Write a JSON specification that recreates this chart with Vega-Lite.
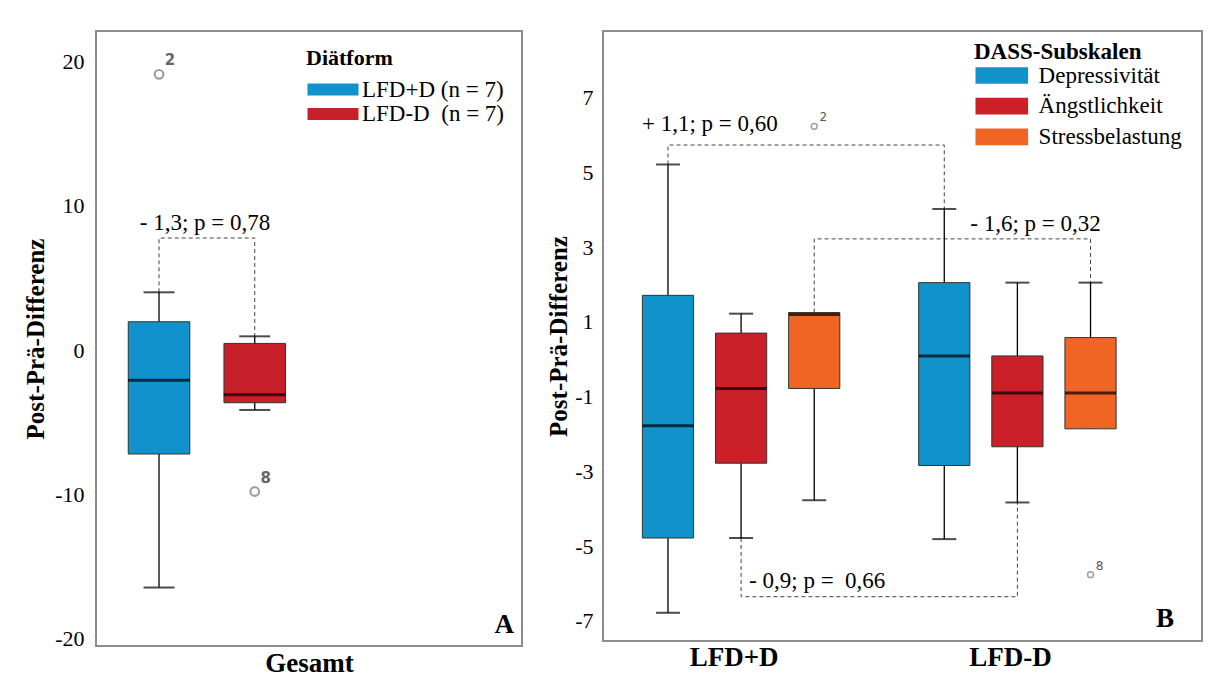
{
  "$schema": "https://vega.github.io/schema/vega-lite/v6.json",
  "padding": {"left": 22, "top": 30, "right": 5, "bottom": 0},
  "spacing": 22,
  "config": {
    "font": "Liberation Serif",
    "view": {"stroke": "#8c8c8c", "strokeWidth": 2},
    "text": {"font": "Liberation Serif"},
    "title": {"font": "Liberation Serif"},
    "axis": {"grid": false, "domain": false, "ticks": false, "tickSize": 0, "labelFont": "Liberation Serif", "titleFont": "Liberation Serif", "labelColor": "#000", "titleColor": "#000"},
    "legend": {"labelFont": "Liberation Serif", "titleFont": "Liberation Serif", "labelColor": "#000", "titleColor": "#000"}
  },
  "datasets": {
    "boxA": [
      {"Diätform": "LFD+D", "min": -16.45, "q1": -7.2, "median": -2.1, "q3": 1.96, "max": 4.0},
      {"Diätform": "LFD-D", "min": -4.15, "q1": -3.65, "median": -3.1, "q3": 0.46, "max": 0.95}
    ],
    "outA": [
      {"Diätform": "LFD+D", "value": 19.1, "id": "2"},
      {"Diätform": "LFD-D", "value": -9.8, "id": "8"}
    ],
    "bracketA": [
      {"Diätform": "LFD+D", "value": 4.0, "step": 1},
      {"Diätform": "LFD+D", "value": 7.76, "step": 2},
      {"Diätform": "LFD-D", "value": 7.76, "step": 3},
      {"Diätform": "LFD-D", "value": 0.95, "step": 4}
    ],
    "textA": [
      {"Diätform": "LFD+D", "value": 8.8, "label": "- 1,3; p = 0,78"}
    ],
    "boxB": [
      {"Gruppe": "LFD+D", "Subskala": "Depressivität", "min": -6.78, "q1": -4.78, "median": -1.78, "q3": 1.71, "max": 5.21},
      {"Gruppe": "LFD+D", "Subskala": "Ängstlichkeit", "min": -4.78, "q1": -2.78, "median": -0.78, "q3": 0.7, "max": 1.22},
      {"Gruppe": "LFD+D", "Subskala": "Stressbelastung", "min": -3.77, "q1": -0.78, "median": 1.2, "q3": 1.25, "max": 1.25},
      {"Gruppe": "LFD-D", "Subskala": "Depressivität", "min": -4.81, "q1": -2.84, "median": 0.09, "q3": 2.05, "max": 4.02},
      {"Gruppe": "LFD-D", "Subskala": "Ängstlichkeit", "min": -3.83, "q1": -2.34, "median": -0.9, "q3": 0.09, "max": 2.05},
      {"Gruppe": "LFD-D", "Subskala": "Stressbelastung", "min": -1.86, "q1": -1.86, "median": -0.9, "q3": 0.58, "max": 2.05}
    ],
    "outB": [
      {"Gruppe": "LFD+D", "Subskala": "Stressbelastung", "value": 6.23, "id": "2"},
      {"Gruppe": "LFD-D", "Subskala": "Stressbelastung", "value": -5.76, "id": "8"}
    ],
    "bracketB": [
      {"pair": 1, "Gruppe": "LFD+D", "Subskala": "Depressivität", "value": 5.21, "step": 1},
      {"pair": 1, "Gruppe": "LFD+D", "Subskala": "Depressivität", "value": 5.73, "step": 2},
      {"pair": 1, "Gruppe": "LFD-D", "Subskala": "Depressivität", "value": 5.73, "step": 3},
      {"pair": 1, "Gruppe": "LFD-D", "Subskala": "Depressivität", "value": 4.02, "step": 4},
      {"pair": 2, "Gruppe": "LFD+D", "Subskala": "Stressbelastung", "value": 1.25, "step": 1},
      {"pair": 2, "Gruppe": "LFD+D", "Subskala": "Stressbelastung", "value": 3.22, "step": 2},
      {"pair": 2, "Gruppe": "LFD-D", "Subskala": "Stressbelastung", "value": 3.22, "step": 3},
      {"pair": 2, "Gruppe": "LFD-D", "Subskala": "Stressbelastung", "value": 2.05, "step": 4},
      {"pair": 3, "Gruppe": "LFD+D", "Subskala": "Ängstlichkeit", "value": -4.78, "step": 1},
      {"pair": 3, "Gruppe": "LFD+D", "Subskala": "Ängstlichkeit", "value": -6.35, "step": 2},
      {"pair": 3, "Gruppe": "LFD-D", "Subskala": "Ängstlichkeit", "value": -6.35, "step": 3},
      {"pair": 3, "Gruppe": "LFD-D", "Subskala": "Ängstlichkeit", "value": -3.83, "step": 4}
    ],
    "textB": [
      {"nr": 1, "Gruppe": "LFD+D", "Subskala": "Depressivität", "value": 6.3, "label": "+ 1,1; p = 0,60"},
      {"nr": 2, "Gruppe": "LFD-D", "Subskala": "Depressivität", "value": 3.62, "label": "- 1,6; p = 0,32"},
      {"nr": 3, "Gruppe": "LFD+D", "Subskala": "Ängstlichkeit", "value": -5.93, "label": "- 0,9; p =\u00a0 0,66"}
    ]
  },
  "hconcat": [
    {
      "width": 426,
      "height": 615,
      "title": {"text": "A", "orient": "bottom", "anchor": "end", "frame": "group", "offset": -64, "dx": -8, "fontSize": 27, "fontWeight": "bold", "font": "Liberation Serif", "color": "#000"},
      "encoding": {
        "x": {
          "field": "Diätform", "type": "nominal",
          "scale": {"domain": ["LFD+D", "LFD-D"], "range": [32.25, 189.5], "paddingInner": 0.357, "paddingOuter": 0},
          "axis": {"labels": false, "title": "Gesamt", "titleFont": "Liberation Serif", "titleFontSize": 27, "titleFontWeight": "bold", "titlePadding": 4, "titleX": 213, "titleAnchor": "middle"}
        }
      },
      "layer": [
        {
          "data": {"name": "bracketA"},
          "mark": {"type": "line", "strokeDash": [4, 3], "stroke": "#444", "strokeWidth": 1},
          "encoding": {
            "y": {"field": "value", "type": "quantitative", "title": "Post-Prä-Differenz", "scale": {"domain": [-20.5, 22.1], "nice": false, "zero": false}},
            "order": {"field": "step", "type": "quantitative"}
          }
        },
        {
          "data": {"name": "boxA"},
          "mark": {"type": "rule", "color": "#000", "strokeWidth": 1.3},
          "encoding": {
            "y": {"field": "min", "type": "quantitative", "title": "Post-Prä-Differenz", "scale": {"domain": [-20.5, 22.1], "nice": false, "zero": false}},
            "y2": {"field": "max"}
          }
        },
        {
          "data": {"name": "boxA"},
          "mark": {"type": "bar", "stroke": "#333", "strokeWidth": 1},
          "encoding": {
            "y": {
              "field": "q1", "type": "quantitative", "title": "Post-Prä-Differenz",
              "scale": {"domain": [-20.5, 22.1], "nice": false, "zero": false},
              "axis": {"values": [20, 10, 0, -10, -20], "labelExpr": "'' + datum.value", "labelFont": "Liberation Serif", "titleFont": "Liberation Serif", "labelFontSize": 22, "labelPadding": 12, "titleFontSize": 25, "titleFontWeight": "bold", "titlePadding": 6}
            },
            "y2": {"field": "q3"},
            "color": {
              "field": "Diätform", "type": "nominal",
              "scale": {"domain": ["LFD+D", "LFD-D"], "range": ["#1192CC", "#C8202A"]},
              "legend": {
                "orient": "none", "legendX": 210, "legendY": 17,
                "title": "Diätform", "titleFont": "Liberation Serif", "labelFont": "Liberation Serif",
                "titleFontSize": 22, "titleFontWeight": "bold", "titlePadding": 8,
                "labelFontSize": 23, "labelOffset": 33, "rowPadding": 0.4,
                "symbolType": "M-1,-0.6H4.1V0.6H-1Z", "symbolSize": 400, "symbolStrokeWidth": 0,
                "labelExpr": "datum.label == 'LFD+D' ? 'LFD+D (n = 7)' : 'LFD-D\u00a0 (n = 7)'"
              }
            }
          }
        },
        {
          "data": {"name": "boxA"},
          "mark": {"type": "tick", "orient": "horizontal", "color": "#000", "size": 62, "thickness": 3},
          "encoding": {
            "y": {"field": "median", "type": "quantitative", "title": "Post-Prä-Differenz", "scale": {"domain": [-20.5, 22.1], "nice": false, "zero": false}}
          }
        },
        {
          "data": {"name": "boxA"},
          "mark": {"type": "tick", "orient": "horizontal", "color": "#000", "size": 31, "thickness": 2},
          "encoding": {
            "y": {"field": "min", "type": "quantitative", "title": "Post-Prä-Differenz", "scale": {"domain": [-20.5, 22.1], "nice": false, "zero": false}}
          }
        },
        {
          "data": {"name": "boxA"},
          "mark": {"type": "tick", "orient": "horizontal", "color": "#000", "size": 31, "thickness": 2},
          "encoding": {
            "y": {"field": "max", "type": "quantitative", "title": "Post-Prä-Differenz", "scale": {"domain": [-20.5, 22.1], "nice": false, "zero": false}}
          }
        },
        {
          "data": {"name": "outA"},
          "mark": {"type": "point", "shape": "circle", "filled": false, "stroke": "#777", "strokeWidth": 2.2, "size": 75},
          "encoding": {
            "y": {"field": "value", "type": "quantitative", "title": "Post-Prä-Differenz", "scale": {"domain": [-20.5, 22.1], "nice": false, "zero": false}}
          }
        },
        {
          "data": {"name": "outA"},
          "mark": {"type": "text", "font": "DejaVu Sans", "fontWeight": "bold", "fontSize": 15, "color": "#666", "dx": 11, "dy": -14},
          "encoding": {
            "y": {"field": "value", "type": "quantitative", "title": "Post-Prä-Differenz", "scale": {"domain": [-20.5, 22.1], "nice": false, "zero": false}},
            "text": {"field": "id"}
          }
        },
        {
          "data": {"name": "textA"},
          "mark": {"type": "text", "font": "Liberation Serif", "fontSize": 23, "color": "#000", "align": "center", "dx": 46},
          "encoding": {
            "y": {"field": "value", "type": "quantitative", "title": "Post-Prä-Differenz", "scale": {"domain": [-20.5, 22.1], "nice": false, "zero": false}},
            "text": {"field": "label"}
          }
        }
      ]
    },
    {
      "width": 599,
      "height": 610,
      "title": {"text": "B", "orient": "bottom", "anchor": "end", "frame": "group", "offset": -64, "dx": -28, "fontSize": 27, "fontWeight": "bold", "font": "Liberation Serif", "color": "#000"},
      "encoding": {
        "x": {
          "field": "Gruppe", "type": "nominal",
          "scale": {"domain": ["LFD+D", "LFD-D"], "paddingInner": 0.206, "paddingOuter": 0.187, "align": 0.275},
          "axis": {"title": null, "labelAngle": 0, "labelFont": "Liberation Serif", "labelFontSize": 27, "labelFontWeight": "bold", "labelPadding": 3, "labelOffset": -7}
        },
        "xOffset": {
          "field": "Subskala", "type": "nominal",
          "scale": {"domain": ["Depressivität", "Ängstlichkeit", "Stressbelastung"], "paddingInner": 0.3, "paddingOuter": 0.15}
        }
      },
      "layer": [
        {
          "data": {"name": "bracketB"},
          "mark": {"type": "line", "strokeDash": [4, 3], "stroke": "#444", "strokeWidth": 1},
          "encoding": {
            "y": {"field": "value", "type": "quantitative", "title": "Post-Prä-Differenz", "scale": {"domain": [-7.535, 8.78], "nice": false, "zero": false}},
            "detail": {"field": "pair", "type": "nominal"},
            "order": {"field": "step", "type": "quantitative"}
          }
        },
        {
          "data": {"name": "boxB"},
          "mark": {"type": "rule", "color": "#000", "strokeWidth": 1.3},
          "encoding": {
            "y": {"field": "min", "type": "quantitative", "title": "Post-Prä-Differenz", "scale": {"domain": [-7.535, 8.78], "nice": false, "zero": false}},
            "y2": {"field": "max"}
          }
        },
        {
          "data": {"name": "boxB"},
          "mark": {"type": "bar", "stroke": "#333", "strokeWidth": 1},
          "encoding": {
            "y": {
              "field": "q1", "type": "quantitative", "title": "Post-Prä-Differenz",
              "scale": {"domain": [-7.535, 8.78], "nice": false, "zero": false},
              "axis": {"values": [7, 5, 3, 1, -1, -3, -5, -7], "labelExpr": "'' + datum.value", "labelFont": "Liberation Serif", "titleFont": "Liberation Serif", "labelFontSize": 22, "labelPadding": 10, "titleFontSize": 25, "titleFontWeight": "bold", "titlePadding": 3}
            },
            "y2": {"field": "q3"},
            "color": {
              "field": "Subskala", "type": "nominal",
              "scale": {"domain": ["Depressivität", "Ängstlichkeit", "Stressbelastung"], "range": ["#1192CB", "#CB2027", "#F06424"]},
              "legend": {
                "orient": "none", "legendX": 371, "legendY": 10,
                "title": "DASS-Subskalen", "titleFont": "Liberation Serif", "labelFont": "Liberation Serif",
                "titleFontSize": 23, "titleFontWeight": "bold", "titlePadding": 0,
                "labelFontSize": 23, "labelOffset": 41.6, "rowPadding": 6.7,
                "symbolType": "M-1,-0.835H4.26V0.835H-1Z", "symbolSize": 400, "symbolStrokeWidth": 0,
                "encode": {
                  "symbols": {"update": {"fill": {"signal": "datum.value == 'Stressbelastung' ? '#E68B2D' : datum.value == 'Ängstlichkeit' ? '#CB2027' : '#1192CB'"}, "stroke": {"value": "transparent"}}},
                  "labels": {"update": {"dy": {"value": 5}}}
                }
              }
            }
          }
        },
        {
          "data": {"name": "boxB"},
          "mark": {"type": "tick", "orient": "horizontal", "color": "#000", "size": 51, "thickness": 3},
          "encoding": {
            "y": {"field": "median", "type": "quantitative", "title": "Post-Prä-Differenz", "scale": {"domain": [-7.535, 8.78], "nice": false, "zero": false}}
          }
        },
        {
          "data": {"name": "boxB"},
          "transform": [{"filter": "datum.min < datum.q1"}],
          "mark": {"type": "tick", "orient": "horizontal", "color": "#000", "size": 24, "thickness": 2},
          "encoding": {
            "y": {"field": "min", "type": "quantitative", "title": "Post-Prä-Differenz", "scale": {"domain": [-7.535, 8.78], "nice": false, "zero": false}}
          }
        },
        {
          "data": {"name": "boxB"},
          "transform": [{"filter": "datum.max > datum.q3"}],
          "mark": {"type": "tick", "orient": "horizontal", "color": "#000", "size": 24, "thickness": 2},
          "encoding": {
            "y": {"field": "max", "type": "quantitative", "title": "Post-Prä-Differenz", "scale": {"domain": [-7.535, 8.78], "nice": false, "zero": false}}
          }
        },
        {
          "data": {"name": "outB"},
          "mark": {"type": "point", "shape": "circle", "filled": false, "stroke": "#777", "strokeWidth": 1.5, "size": 35},
          "encoding": {
            "y": {"field": "value", "type": "quantitative", "title": "Post-Prä-Differenz", "scale": {"domain": [-7.535, 8.78], "nice": false, "zero": false}}
          }
        },
        {
          "data": {"name": "outB"},
          "mark": {"type": "text", "font": "DejaVu Sans", "fontSize": 12, "color": "#555", "dx": 9, "dy": -9},
          "encoding": {
            "y": {"field": "value", "type": "quantitative", "title": "Post-Prä-Differenz", "scale": {"domain": [-7.535, 8.78], "nice": false, "zero": false}},
            "text": {"field": "id"}
          }
        },
        {
          "data": {"name": "textB"},
          "transform": [{"filter": "datum.nr == 1"}],
          "mark": {"type": "text", "font": "Liberation Serif", "fontSize": 23, "color": "#000", "align": "left", "dx": -26},
          "encoding": {
            "y": {"field": "value", "type": "quantitative", "title": "Post-Prä-Differenz", "scale": {"domain": [-7.535, 8.78], "nice": false, "zero": false}},
            "text": {"field": "label"}
          }
        },
        {
          "data": {"name": "textB"},
          "transform": [{"filter": "datum.nr == 2"}],
          "mark": {"type": "text", "font": "Liberation Serif", "fontSize": 23, "color": "#000", "align": "left", "dx": 26},
          "encoding": {
            "y": {"field": "value", "type": "quantitative", "title": "Post-Prä-Differenz", "scale": {"domain": [-7.535, 8.78], "nice": false, "zero": false}},
            "text": {"field": "label"}
          }
        },
        {
          "data": {"name": "textB"},
          "transform": [{"filter": "datum.nr == 3"}],
          "mark": {"type": "text", "font": "Liberation Serif", "fontSize": 23, "color": "#000", "align": "left", "dx": 8},
          "encoding": {
            "y": {"field": "value", "type": "quantitative", "title": "Post-Prä-Differenz", "scale": {"domain": [-7.535, 8.78], "nice": false, "zero": false}},
            "text": {"field": "label"}
          }
        }
      ]
    }
  ],
  "resolve": {
    "scale": {"x": "independent", "y": "independent", "color": "independent", "xOffset": "independent"},
    "legend": {"color": "independent"}
  }
}
